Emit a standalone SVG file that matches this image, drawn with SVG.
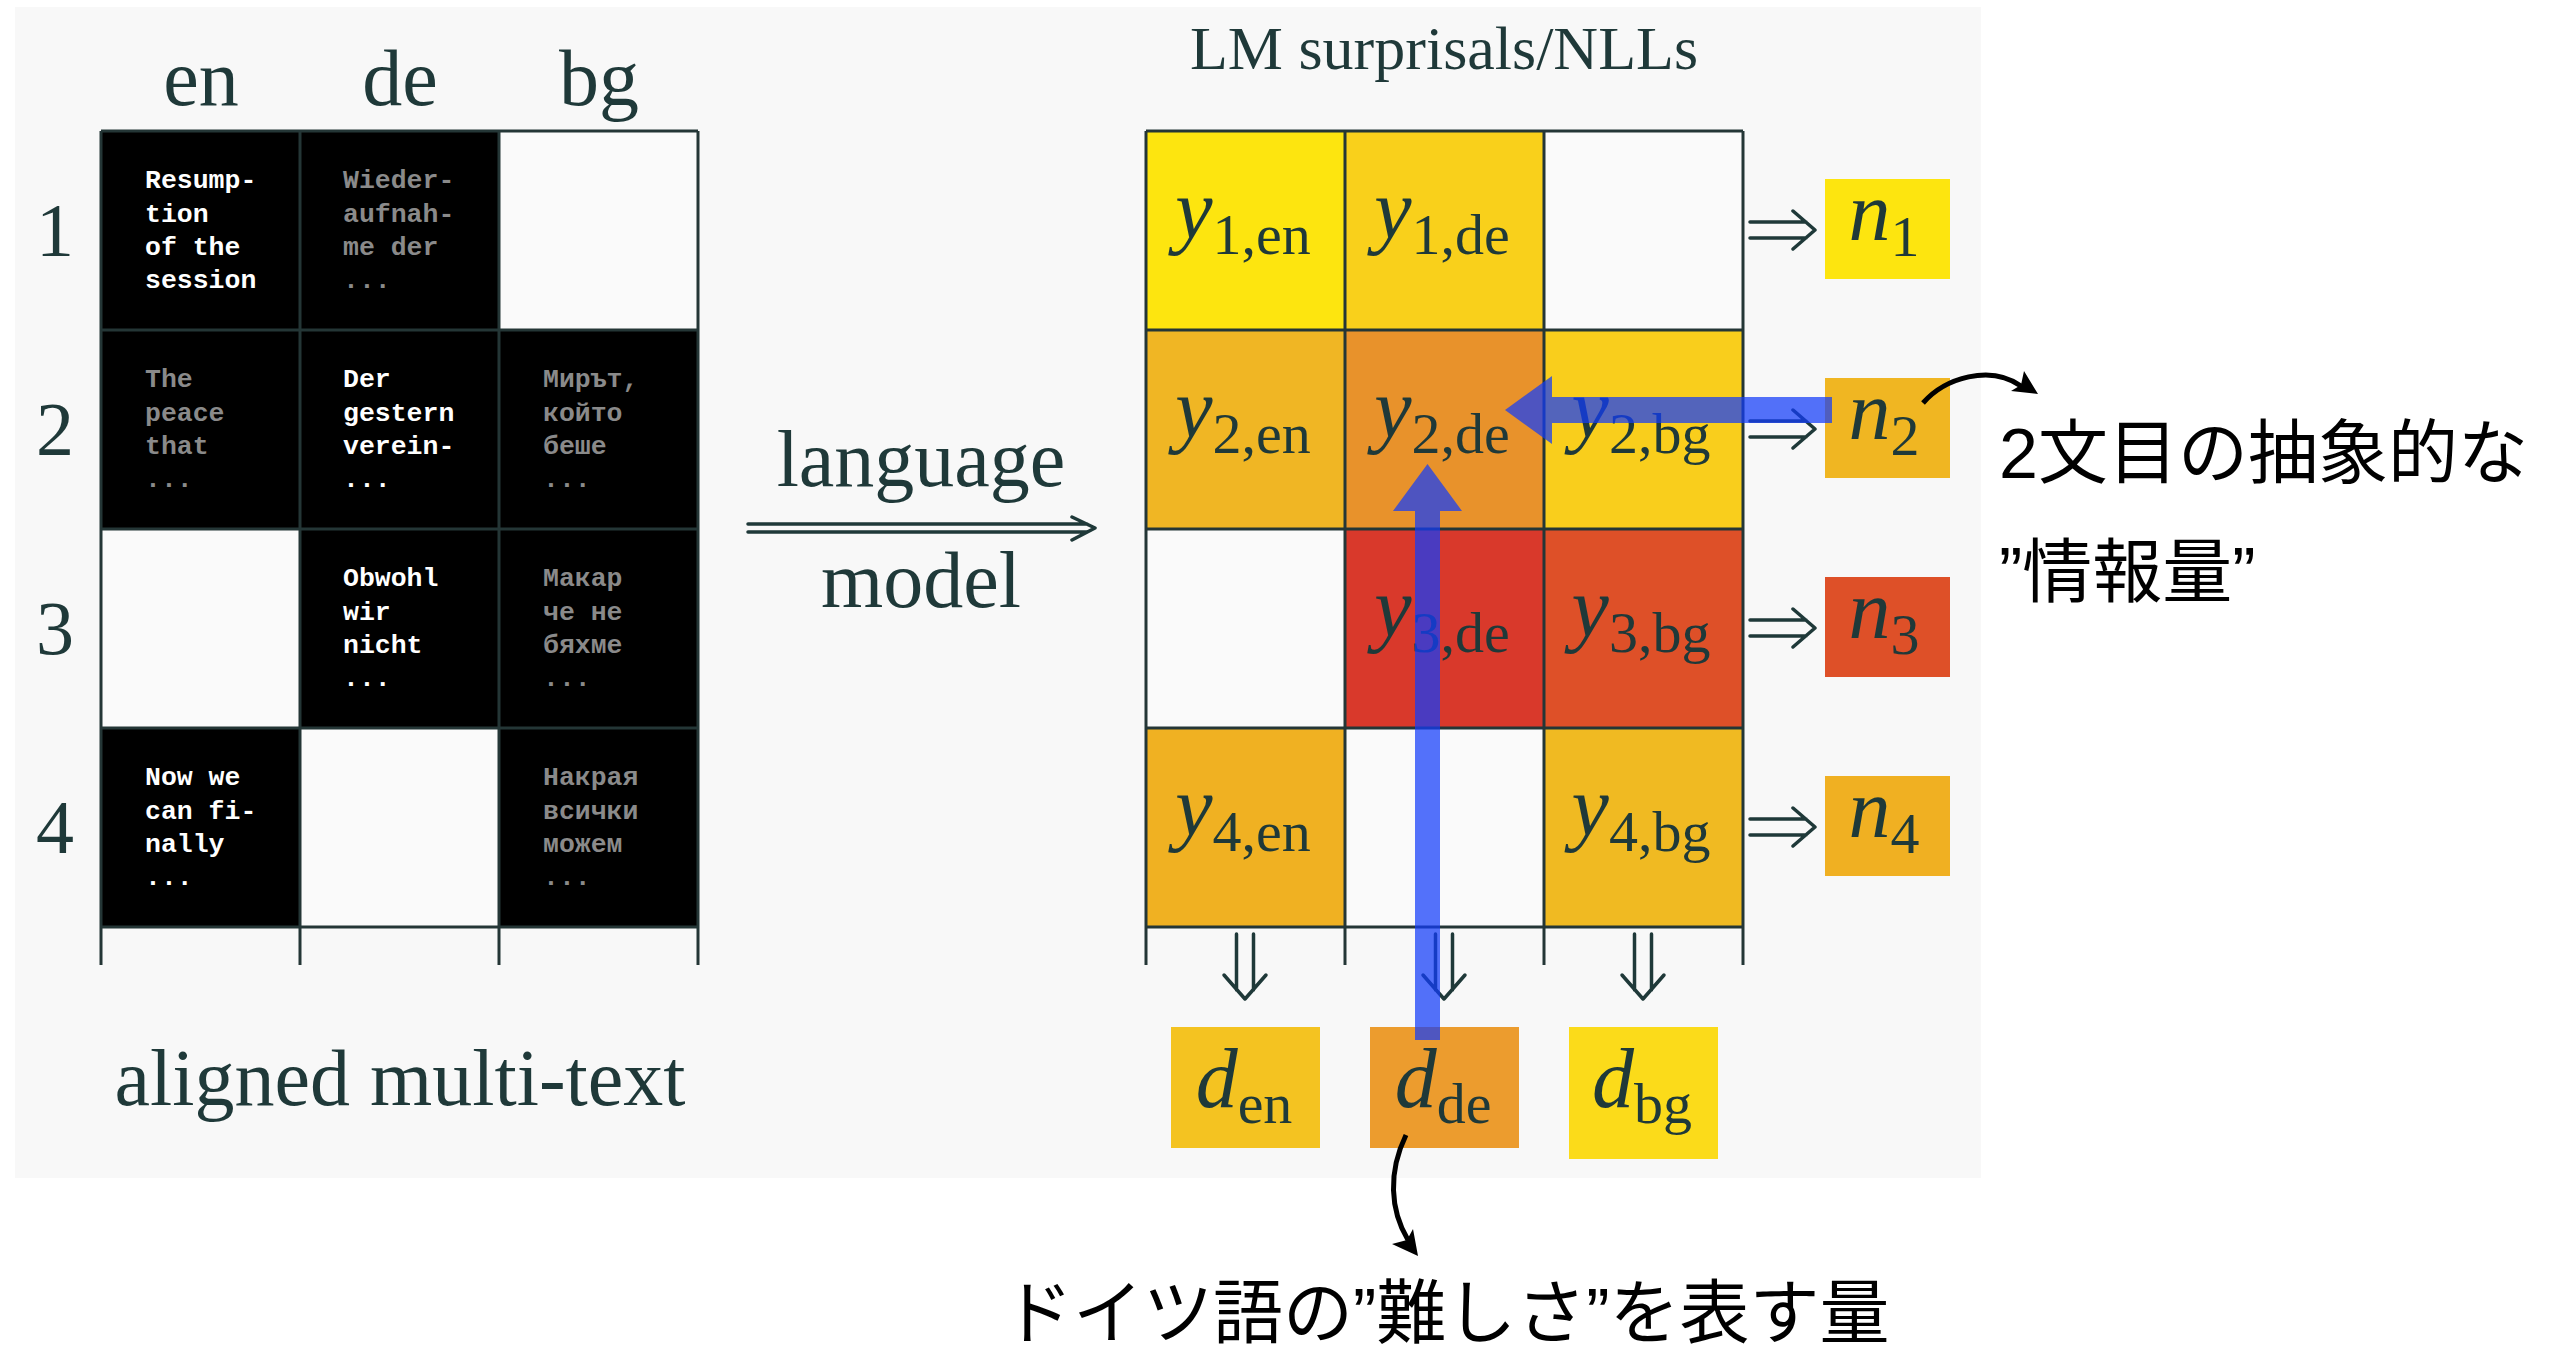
<svg xmlns="http://www.w3.org/2000/svg" width="2559" height="1356" viewBox="0 0 2559 1356">
<style>
.serif{font-family:"Liberation Serif",serif;fill:#1f3939}
.hd{font-size:80px;text-anchor:middle}
.rn{font-size:76px;text-anchor:middle}
.mono{font-family:"Liberation Mono",monospace;font-size:26.5px}
.w{fill:#ffffff;font-weight:700}
.g{fill:#8a8a8a;font-weight:700}
.blk{fill:#000000}
.emp{fill:#fafafa}
.grid{stroke:#243636;stroke-width:3;fill:none}
.dbl{stroke:#1f3939;stroke-width:3.5;fill:none;stroke-linejoin:round;stroke-linecap:round}
.blue{fill:#123bfa;fill-opacity:0.72}
.lab{text-anchor:middle}
.mi{font-style:italic;font-size:84px}
.sub{font-size:58px}
.jp{font-family:"Liberation Sans","Noto Sans CJK JP",sans-serif;font-size:70px;fill:#000000}
.ann{stroke:#000000;stroke-width:5;fill:none}
</style>
<rect x="0" y="0" width="2559" height="1356" fill="#ffffff"/>
<rect id="panel" x="15" y="7" width="1966" height="1171" fill="#f8f8f8"/>

<g id="multitext">
  <text class="serif hd" x="201" y="105">en</text>
  <text class="serif hd" x="400" y="105">de</text>
  <text class="serif hd" x="599" y="105">bg</text>
  <text class="serif rn" x="55" y="256">1</text>
  <text class="serif rn" x="55" y="455">2</text>
  <text class="serif rn" x="55" y="654">3</text>
  <text class="serif rn" x="55" y="853">4</text>

  <g id="c1en"><rect class="blk" x="101" y="131" width="199" height="199"/>
    <text class="mono w"><tspan x="145" y="188">Resump-</tspan><tspan x="145" y="222">tion</tspan><tspan x="145" y="255">of the</tspan><tspan x="145" y="288">session</tspan></text></g>
  <g id="c1de"><rect class="blk" x="300" y="131" width="199" height="199"/>
    <text class="mono g"><tspan x="343" y="188">Wieder-</tspan><tspan x="343" y="222">aufnah-</tspan><tspan x="343" y="255">me der</tspan><tspan x="343" y="288">...</tspan></text></g>
  <g id="c1bg"><rect class="emp" x="499" y="131" width="199" height="199"/></g>

  <g id="c2en"><rect class="blk" x="101" y="330" width="199" height="199"/>
    <text class="mono g"><tspan x="145" y="387">The</tspan><tspan x="145" y="421">peace</tspan><tspan x="145" y="454">that</tspan><tspan x="145" y="487">...</tspan></text></g>
  <g id="c2de"><rect class="blk" x="300" y="330" width="199" height="199"/>
    <text class="mono w"><tspan x="343" y="387">Der</tspan><tspan x="343" y="421">gestern</tspan><tspan x="343" y="454">verein-</tspan><tspan x="343" y="487">...</tspan></text></g>
  <g id="c2bg"><rect class="blk" x="499" y="330" width="199" height="199"/>
    <text class="mono g"><tspan x="543" y="387">Мирът,</tspan><tspan x="543" y="421">който</tspan><tspan x="543" y="454">беше</tspan><tspan x="543" y="487">...</tspan></text></g>

  <g id="c3en"><rect class="emp" x="101" y="529" width="199" height="199"/></g>
  <g id="c3de"><rect class="blk" x="300" y="529" width="199" height="199"/>
    <text class="mono w"><tspan x="343" y="586">Obwohl</tspan><tspan x="343" y="620">wir</tspan><tspan x="343" y="653">nicht</tspan><tspan x="343" y="686">...</tspan></text></g>
  <g id="c3bg"><rect class="blk" x="499" y="529" width="199" height="199"/>
    <text class="mono g"><tspan x="543" y="586">Макар</tspan><tspan x="543" y="620">че не</tspan><tspan x="543" y="653">бяхме</tspan><tspan x="543" y="686">...</tspan></text></g>

  <g id="c4en"><rect class="blk" x="101" y="728" width="199" height="199"/>
    <text class="mono w"><tspan x="145" y="785">Now we</tspan><tspan x="145" y="819">can fi-</tspan><tspan x="145" y="852">nally</tspan><tspan x="145" y="885">...</tspan></text></g>
  <g id="c4de"><rect class="emp" x="300" y="728" width="199" height="199"/></g>
  <g id="c4bg"><rect class="blk" x="499" y="728" width="199" height="199"/>
    <text class="mono g"><tspan x="543" y="785">Накрая</tspan><tspan x="543" y="819">всички</tspan><tspan x="543" y="852">можем</tspan><tspan x="543" y="885">...</tspan></text></g>

  <path class="grid" d="M101,131H698M101,330H698M101,529H698M101,728H698M101,927H698M101,131V965M300,131V965M499,131V965M698,131V965"/>
  <text class="serif hd" x="400" y="1105">aligned multi-text</text>
</g>

<g id="lm-label">
  <text class="serif hd" x="921" y="486">language</text>
  <text class="serif hd" x="921" y="607">model</text>
</g>

<g id="surprisals">
  <text class="serif" x="1444" y="69" font-size="62" text-anchor="middle">LM surprisals/NLLs</text>
  <g id="y1en"><rect x="1146" y="131" width="199" height="199" fill="#fde50f"/>
    <text class="serif lab" x="1243" y="238"><tspan class="mi">y</tspan><tspan class="sub" dy="16">1,en</tspan></text></g>
  <g id="y1de"><rect x="1345" y="131" width="199" height="199" fill="#f9d01b"/>
    <text class="serif lab" x="1442" y="238"><tspan class="mi">y</tspan><tspan class="sub" dy="16">1,de</tspan></text></g>
  <g id="y1bg"><rect class="emp" x="1544" y="131" width="199" height="199"/></g>

  <g id="y2en"><rect x="1146" y="330" width="199" height="199" fill="#f0b624"/>
    <text class="serif lab" x="1243" y="437"><tspan class="mi">y</tspan><tspan class="sub" dy="16">2,en</tspan></text></g>
  <g id="y2de"><rect x="1345" y="330" width="199" height="199" fill="#e8922b"/>
    <text class="serif lab" x="1442" y="437"><tspan class="mi">y</tspan><tspan class="sub" dy="16">2,de</tspan></text></g>
  <g id="y2bg"><rect x="1544" y="330" width="199" height="199" fill="#f9ce1c"/>
    <text class="serif lab" x="1641" y="437"><tspan class="mi">y</tspan><tspan class="sub" dy="16">2,bg</tspan></text></g>

  <g id="y3en"><rect class="emp" x="1146" y="529" width="199" height="199"/></g>
  <g id="y3de"><rect x="1345" y="529" width="199" height="199" fill="#d9392b"/>
    <text class="serif lab" x="1442" y="636"><tspan class="mi">y</tspan><tspan class="sub" dy="16">3,de</tspan></text></g>
  <g id="y3bg"><rect x="1544" y="529" width="199" height="199" fill="#de5028"/>
    <text class="serif lab" x="1641" y="636"><tspan class="mi">y</tspan><tspan class="sub" dy="16">3,bg</tspan></text></g>

  <g id="y4en"><rect x="1146" y="728" width="199" height="199" fill="#f0b122"/>
    <text class="serif lab" x="1243" y="835"><tspan class="mi">y</tspan><tspan class="sub" dy="16">4,en</tspan></text></g>
  <g id="y4de"><rect class="emp" x="1345" y="728" width="199" height="199"/></g>
  <g id="y4bg"><rect x="1544" y="728" width="199" height="199" fill="#f0ba22"/>
    <text class="serif lab" x="1641" y="835"><tspan class="mi">y</tspan><tspan class="sub" dy="16">4,bg</tspan></text></g>

  <path class="grid" d="M1146,131H1743M1146,330H1743M1146,529H1743M1146,728H1743M1146,927H1743M1146,131V965M1345,131V965M1544,131V965M1743,131V965"/>
</g>

<g id="n1"><rect x="1825" y="179" width="125" height="100" fill="#fde50f"/>
  <text class="serif lab" x="1884" y="240"><tspan class="mi" font-size="80">n</tspan><tspan class="sub" font-size="56" dy="16">1</tspan></text></g>
<g id="n2"><rect x="1825" y="378" width="125" height="100" fill="#f0b622"/>
  <text class="serif lab" x="1884" y="439"><tspan class="mi" font-size="80">n</tspan><tspan class="sub" font-size="56" dy="16">2</tspan></text></g>
<g id="n3"><rect x="1825" y="577" width="125" height="100" fill="#de5028"/>
  <text class="serif lab" x="1884" y="638"><tspan class="mi" font-size="80">n</tspan><tspan class="sub" font-size="56" dy="16">3</tspan></text></g>
<g id="n4"><rect x="1825" y="776" width="125" height="100" fill="#f0b022"/>
  <text class="serif lab" x="1884" y="837"><tspan class="mi" font-size="80">n</tspan><tspan class="sub" font-size="56" dy="16">4</tspan></text></g>

<g id="d-en"><rect x="1171" y="1027" width="149" height="121" fill="#f4c321"/>
  <text class="serif lab" x="1244" y="1107"><tspan class="mi" font-size="78">d</tspan><tspan class="sub" font-size="62" dy="16">en</tspan></text></g>
<g id="d-de"><rect x="1370" y="1027" width="149" height="121" fill="#ec9c2e"/>
  <text class="serif lab" x="1443" y="1107"><tspan class="mi" font-size="78">d</tspan><tspan class="sub" font-size="62" dy="16">de</tspan></text></g>
<g id="d-bg"><rect x="1569" y="1027" width="149" height="132" fill="#fbdb1a"/>
  <text class="serif lab" x="1642" y="1107"><tspan class="mi" font-size="78">d</tspan><tspan class="sub" font-size="62" dy="16">bg</tspan></text></g>

<g id="note-n2">
  <text class="jp" x="1999" y="478">2文目の抽象的な</text>
  <text class="jp" x="1999" y="597">”情報量”</text>
</g>
<g id="note-dde">
  <text class="jp" x="1003" y="1338">ドイツ語の”難しさ”を表す量</text>
</g>

<g id="connectors">
  <path class="dbl" stroke-width="2.5" d="M748,524H1087M748,532H1087M1072,517L1095,528L1072,540"/>
  <path class="dbl" d="M1750,222H1806M1750,238H1806M1793,211L1815,230L1793,249"/>
  <path class="dbl" d="M1750,421H1806M1750,437H1806M1793,410L1815,429L1793,448"/>
  <path class="dbl" d="M1750,620H1806M1750,636H1806M1793,609L1815,628L1793,647"/>
  <path class="dbl" d="M1750,819H1806M1750,835H1806M1793,808L1815,827L1793,846"/>
  <path class="dbl" d="M1236.5,934V990M1253.5,934V990M1224,975L1245,999L1266,975"/>
  <path class="dbl" d="M1435.5,934V990M1452.5,934V990M1423,975L1444,999L1465,975"/>
  <path class="dbl" d="M1634.5,934V990M1651.5,934V990M1622,975L1643,999L1664,975"/>
  <path class="blue" d="M1832,397L1552,397L1552,376L1505,410L1552,444L1552,423L1832,423Z"/>
  <path class="blue" d="M1415,1040L1415,511L1393,511L1427.5,464L1462,511L1440,511L1440,1040Z"/>
  <path class="ann" d="M1923,403C1945,378 1990,364 2021,386"/>
  <path fill="#000000" d="M2038,394L2024,371L2021,385L2011,391Z"/>
  <path class="ann" d="M1406,1135C1388,1172 1390,1210 1408,1240"/>
  <path fill="#000000" d="M1418,1256L1392,1244L1407,1240L1413,1229Z"/>
</g>
</svg>
